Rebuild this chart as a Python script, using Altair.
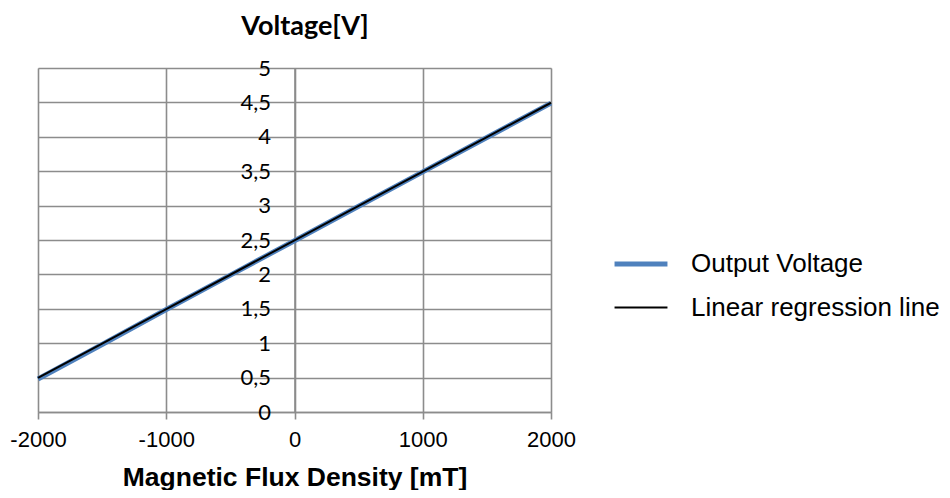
import altair as alt
import pandas as pd

flux = [-2000, -1500, -1000, -500, 0, 500, 1000, 1500, 2000]
output_voltage = [0.48, 0.98, 1.49, 1.99, 2.49, 2.99, 3.49, 3.99, 4.49]
regression = [0.495, 0.995, 1.495, 1.995, 2.495, 2.995, 3.495, 3.995, 4.495]
series_names = ["Output Voltage", "Linear regression line"]
x_ticks = [-2000, -1000, 0, 1000, 2000]
y_ticks = [0, 0.5, 1, 1.5, 2, 2.5, 3, 3.5, 4, 4.5, 5]

df = pd.DataFrame(
    {"B": flux * 2,
     "V": output_voltage + regression,
     "series": [series_names[0]] * len(flux) + [series_names[1]] * len(flux)}
)

GRID = "#8c8c8c"

x_enc = alt.X(
    "B:Q",
    scale=alt.Scale(domain=[-2000, 2000], nice=False, zero=False),
    axis=alt.Axis(
        values=x_ticks, grid=True, gridColor=GRID, gridWidth=1.6,
        domainColor=GRID, domainWidth=1.6, tickColor=GRID, tickWidth=1.6,
        tickSize=7, labelPadding=10, labelFont="Liberation Sans",
        labelFontSize=22, labelColor="black", labelFlush=False,
        labelExpr="'' + datum.value",
        title="Magnetic Flux Density [mT]", titleFont="Liberation Sans",
        titleFontSize=26.5, titleFontWeight="bold", titleColor="black",
        titleY=73, titleBaseline="alphabetic",
    ),
)
y_enc = alt.Y(
    "V:Q",
    scale=alt.Scale(domain=[0, 5], nice=False),
    axis=alt.Axis(
        values=y_ticks, grid=True, gridColor=GRID, gridWidth=1.6,
        domainColor=GRID, domainWidth=1.6, ticks=False, offset=-256.5,
        labelPadding=24, labelFont="Lato", labelFontSize=22,
        labelColor="black", labelBaseline="middle", labelFlush=False,
        labelExpr="replace('' + datum.value, '.', ',')",
        title="Voltage[V]", titleFont="Lato", titleFontSize=27,
        titleFontWeight="bold", titleColor="black", titleAngle=0,
        titleAlign="center", titleBaseline="middle", titleX=10, titleY=-42,
    ),
)
color_enc = alt.Color(
    "series:N",
    scale=alt.Scale(domain=series_names, range=["#4f81bd", "black"]),
    legend=alt.Legend(
        title=None, orient="none", legendX=574, legendY=167,
        symbolType="stroke", symbolSize=2800, labelFont="Liberation Sans",
        labelFontSize=26, labelColor="black", labelOffset=21, rowPadding=3,
        labelLimit=400,
    ),
)
sw_enc = alt.StrokeWidth(
    "series:N",
    scale=alt.Scale(domain=series_names, range=[5, 2]),
    legend=alt.Legend(title=None, orient="none", legendX=574, legendY=167),
)

blue = alt.Chart(df).transform_filter(
    alt.datum.series == series_names[0]
).mark_line().encode(x=x_enc, y=y_enc, color=color_enc, strokeWidth=sw_enc)
black = alt.Chart(df).transform_filter(
    alt.datum.series == series_names[1]
).mark_line().encode(x=x_enc, y=y_enc, color=color_enc, strokeWidth=sw_enc)

chart = alt.layer(blue, black).properties(
    width=513, height=344,
    autosize=alt.AutoSizeParams(type="none"),
    padding={"left": 30, "top": 60, "right": 390, "bottom": 78},
).configure_view(stroke=None).configure(background="white")

chart.save("out.html", embed_options={"renderer": "svg", "actions": False})
